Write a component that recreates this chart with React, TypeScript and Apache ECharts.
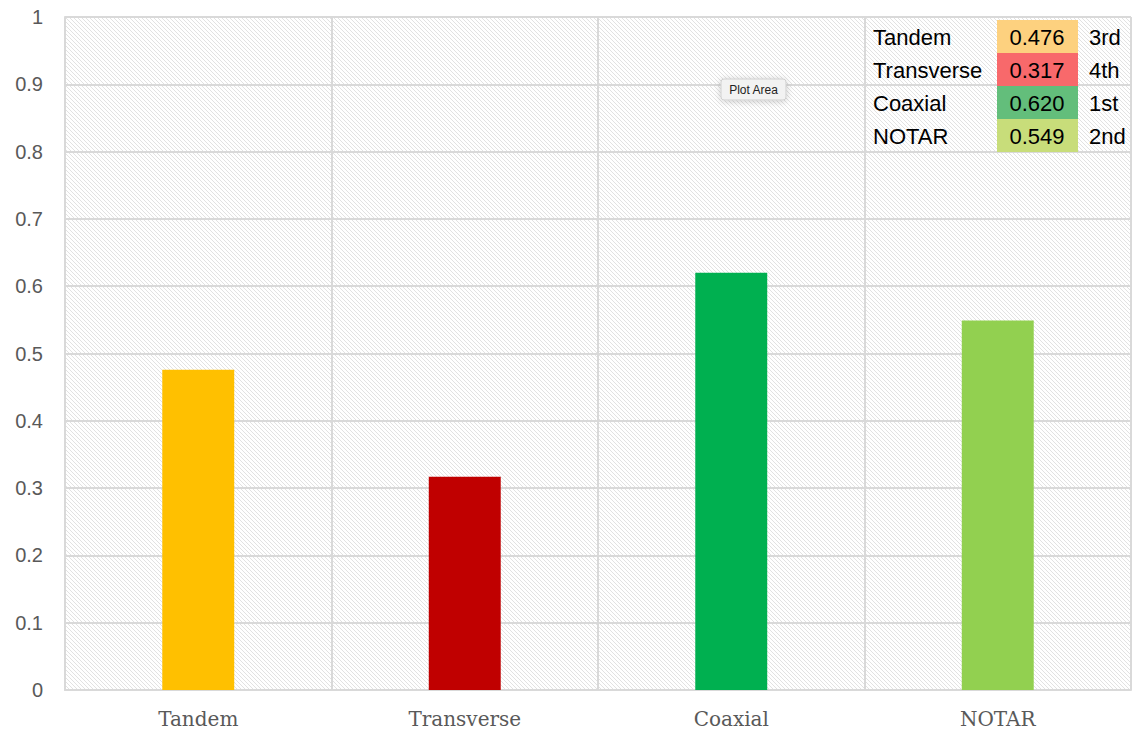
import React, { useEffect, useRef } from "react";
import * as echarts from "echarts";

const categories = ["Tandem", "Transverse", "Coaxial", "NOTAR"];
const values = [0.476, 0.317, 0.62, 0.549];
const barColors = ["#FFC000", "#C00000", "#00B050", "#92D050"];
const tableLabels = ["Tandem", "Transverse", "Coaxial", "NOTAR"];
const tableValues = [0.476, 0.317, 0.62, 0.549];
const tableCellColors = ["#FDD17F", "#F8696B", "#63BE7B", "#C8DD7A"];
const tableRanks = ["3rd", "4th", "1st", "2nd"];
const yTicks = [0, 0.1, 0.2, 0.3, 0.4, 0.5, 0.6, 0.7, 0.8, 0.9, 1];

function makeHatch(): string {
  const c = document.createElement("canvas");
  c.width = 8;
  c.height = 8;
  const ctx = c.getContext("2d");
  if (ctx) {
    ctx.fillStyle = "#ffffff";
    ctx.fillRect(0, 0, 8, 8);
    ctx.strokeStyle = "#e2e2e2";
    ctx.lineWidth = 1;
    for (let k = -3; k <= 3; k++) {
      ctx.beginPath();
      ctx.moveTo(-2, -2 + k * 4);
      ctx.lineTo(10, 10 + k * 4);
      ctx.stroke();
    }
  }
  return c.toDataURL();
}

export default function App() {
  const ref = useRef<HTMLDivElement>(null);
  useEffect(() => {
    document.body.style.margin = "0";
    if (!ref.current) return;
    const chart = echarts.init(ref.current, undefined, { renderer: "svg" });
    const hatch = makeHatch();

    const tableX = 865;
    const rowTop = 20;
    const rowH = 33;
    const font = "22px 'Liberation Sans', Arial, sans-serif";
    const tableGraphics: any[] = [];
    tableLabels.forEach((lab, i) => {
      const y = rowTop + i * rowH;
      tableGraphics.push({
        type: "rect",
        shape: { x: 997, y: y, width: 81, height: rowH },
        style: { fill: tableCellColors[i] },
        z: 100,
      });
      tableGraphics.push({
        type: "text",
        x: tableX + 8,
        y: y + rowH / 2 + 1,
        style: { text: lab, font, fill: "#000", verticalAlign: "middle" },
        z: 101,
      });
      tableGraphics.push({
        type: "text",
        x: 1037,
        y: y + rowH / 2 + 1,
        style: { text: tableValues[i].toFixed(3), font, fill: "#000", align: "center", verticalAlign: "middle" },
        z: 101,
      });
      tableGraphics.push({
        type: "text",
        x: 1089,
        y: y + rowH / 2 + 1,
        style: { text: tableRanks[i], font, fill: "#000", verticalAlign: "middle" },
        z: 101,
      });
    });

    chart.setOption({
      animation: false,
      backgroundColor: "#ffffff",
      grid: {
        left: 65,
        top: 17,
        right: 2,
        bottom: 42,
        show: true,
        backgroundColor: { image: hatch, repeat: "repeat" } as any,
        borderWidth: 0,
      },
      xAxis: {
        type: "category",
        data: categories,
        axisLine: { show: true, lineStyle: { color: "#d9d9d9", width: 2 } },
        axisTick: { show: false },
        splitLine: { show: true, lineStyle: { color: "#d9d9d9", width: 2 } },
        axisLabel: {
          color: "#595959",
          fontFamily: "'DejaVu Serif', serif",
          fontSize: 20,
          margin: 19,
        },
      },
      yAxis: {
        type: "value",
        min: 0,
        max: 1,
        interval: 0.1,
        axisLine: { show: true, lineStyle: { color: "#d9d9d9", width: 2 } },
        axisTick: { show: false },
        splitLine: { show: true, lineStyle: { color: "#d9d9d9", width: 2 } },
        axisLabel: {
          color: "#595959",
          fontFamily: "'Liberation Sans', Arial, sans-serif",
          fontSize: 20,
          margin: 22,
          formatter: (v: number) => {
            const t = yTicks.find((x) => Math.abs(x - v) < 1e-9);
            return t === undefined ? "" : String(t);
          },
        },
      },
      series: [
        {
          type: "bar",
          data: values.map((v, i) => ({ value: v, itemStyle: { color: barColors[i] } })),
          barWidth: "27%",
        },
      ],
      graphic: [
        ...tableGraphics,
        {
          type: "rect",
          shape: { x: 721, y: 79, width: 65, height: 21, r: 3 },
          style: { fill: "#f2f2f2", stroke: "#cfcfcf", lineWidth: 1, shadowBlur: 6, shadowColor: "rgba(0,0,0,0.2)", shadowOffsetY: 1 },
          z: 110,
        },
        {
          type: "text",
          x: 753.5,
          y: 90,
          style: { text: "Plot Area", font: "12px 'Liberation Sans', Arial, sans-serif", fill: "#222", align: "center", verticalAlign: "middle" },
          z: 111,
        },
      ],
    });
    return () => chart.dispose();
  }, []);
  return <div ref={ref} style={{ width: 1133, height: 732 }} />;
}
